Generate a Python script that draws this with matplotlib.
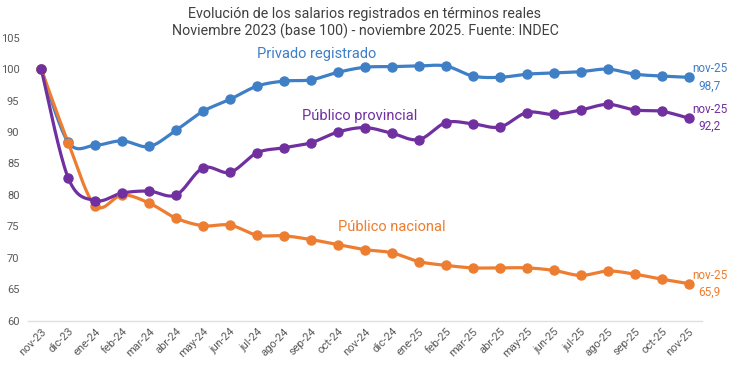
import numpy as np
import matplotlib.pyplot as plt

meses = ['nov-23', 'dic-23', 'ene-24', 'feb-24', 'mar-24', 'abr-24', 'may-24',
         'jun-24', 'jul-24', 'ago-24', 'sep-24', 'oct-24', 'nov-24', 'dic-24',
         'ene-25', 'feb-25', 'mar-25', 'abr-25', 'may-25', 'jun-25', 'jul-25',
         'ago-25', 'sep-25', 'oct-25', 'nov-25']

privado = [100, 88.4, 87.9, 88.6, 87.7, 90.3, 93.3, 95.2, 97.3, 98.1, 98.3, 99.5,
           100.3, 100.4, 100.5, 100.5, 98.9, 98.7, 99.2, 99.4, 99.6, 100.0, 99.2,
           98.9, 98.7]
provincial = [100, 82.7, 79.1, 80.3, 80.6, 80.0, 84.3, 83.6, 86.7, 87.5, 88.3, 90.0,
              90.7, 89.8, 88.8, 91.5, 91.3, 90.8, 93.1, 92.8, 93.5, 94.4, 93.5,
              93.3, 92.2]
nacional = [100, 88.3, 78.3, 80.0, 78.7, 76.3, 75.1, 75.2, 73.6, 73.5, 72.9, 72.1,
            71.3, 70.8, 69.4, 68.8, 68.4, 68.4, 68.4, 68.0, 67.2, 67.9, 67.4,
            66.6, 65.9]

plt.rcParams['font.family'] = ['Roboto', 'DejaVu Sans']


def suave(x, y, n=20):
    # curva tipo Catmull-Rom, como el suavizado de Excel
    p = np.column_stack([x, y]).astype(float)
    p = np.vstack([p[0], p, p[-1]])
    out = []
    t = np.linspace(0, 1, n, endpoint=False)[:, None]
    for i in range(1, len(p) - 2):
        p0, p1, p2, p3 = p[i - 1], p[i], p[i + 1], p[i + 2]
        c1 = p1 + (p2 - p0) / 6
        c2 = p2 - (p3 - p1) / 6
        seg = ((1 - t) ** 3) * p1 + 3 * ((1 - t) ** 2) * t * c1 + 3 * (1 - t) * t ** 2 * c2 + t ** 3 * p2
        out.append(seg)
    out.append(p[-2][None, :])
    out = np.vstack(out)
    return out[:, 0], out[:, 1]


fig = plt.figure(figsize=(7.3, 3.68), dpi=100)
ax = fig.add_axes([0.038, 0.1285, 0.924, 0.7691])

x = np.arange(len(meses))
series = [
    (privado, '#3f7fc6', 'Privado registrado', (10.2, 102.4)),
    (nacional, '#ed7d31', 'Público nacional', (13.0, 74.9)),
    (provincial, '#7030a0', 'Público provincial', (11.8, 92.5)),
]
for vals, col, nombre, pos in series:
    sx, sy = suave(x, vals)
    ax.plot(sx, sy, color=col, lw=2.3, solid_capstyle='round', zorder=2)
    ax.plot(x, vals, 'o', color=col, ms=6.5, zorder=3)
    ax.text(pos[0], pos[1], nombre, color=col, fontsize=10.5, ha='center', va='center')
    ax.annotate(f'{meses[-1]}\n{vals[-1]:.1f}'.replace('.', ','), (x[-1], vals[-1]),
                xytext=(21, 0), textcoords='offset pixels', color=col, fontsize=8.5,
                ha='center', va='center', linespacing=1.4, annotation_clip=False)

ax.set_xlim(-0.5, 24.5)
ax.set_ylim(60, 105)
ax.set_yticks(range(60, 106, 5))
ax.set_xticks(x)
ax.set_xticklabels(meses, rotation=45, ha='right', rotation_mode='anchor')
ax.tick_params(axis='both', length=0, colors='#595959', labelsize=8)
ax.tick_params(axis='x', pad=4)
ax.tick_params(axis='y', pad=6)
for s in ['top', 'right', 'left']:
    ax.spines[s].set_visible(False)
ax.spines['bottom'].set_color('#e0e0e0')
ax.spines['bottom'].set_linewidth(1)

fig.text(0.5, 0.938, 'Evolución de los salarios registrados en términos reales\n'
         'Noviembre 2023 (base 100) - noviembre 2025. Fuente: INDEC',
         ha='center', va='center', fontsize=10.3, color='#404040', linespacing=1.2)

fig.savefig('out.png', dpi=100)
